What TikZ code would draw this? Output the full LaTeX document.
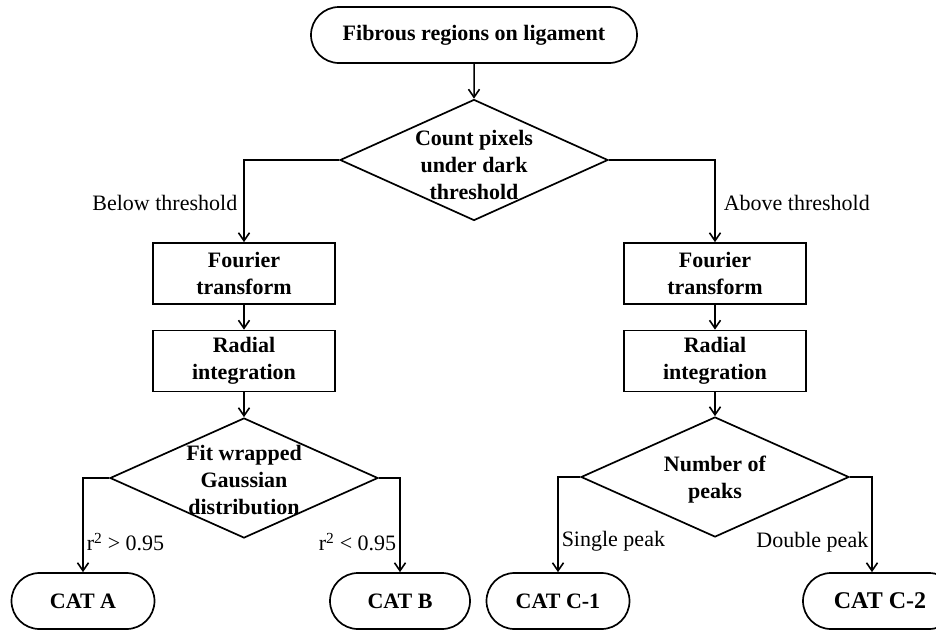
\documentclass[tikz,border=0pt]{standalone}
\usepackage{fontspec}
\setmainfont{Liberation Serif}
\usetikzlibrary{arrows.meta, positioning, shapes.geometric, shapes.misc}

\begin{document}
\begin{tikzpicture}[
  x=1pt, y=-1pt,
  term/.style={rounded rectangle, draw=black, line width=1.7pt, inner sep=0pt,
               minimum height=56pt, font=\fontsize{22}{27}\selectfont\bfseries},
  proc/.style={rectangle, draw=black, line width=1.7pt, inner sep=0pt,
               minimum width=182pt, minimum height=61pt, align=center,
               font=\fontsize{22}{27}\selectfont\bfseries},
  decide/.style={diamond, draw=black, line width=1.7pt, inner sep=0pt,
                 minimum width=268pt, minimum height=121pt},
  dtext/.style={align=center, font=\fontsize{22}{27}\selectfont\bfseries},
  flowarrow/.style={-{Straight Barb[length=8pt, width=11pt, line width=1.6pt]}, line width=1.5pt},
  branch/.style={font=\fontsize{22}{26}\selectfont}
]
\useasboundingbox (0,0) rectangle (936,632);

% Start and first decision
\node[term, minimum width=326pt] (start) at (474,35) {Fibrous regions on ligament};
\node[decide, label={[dtext, yshift=-5pt]center:Count pixels\\under dark\\threshold}] (cnt) at (474,160) {};

% Left branch
\node[proc] (fl) at (244,273.5) {Fourier\\transform};
\node[proc] (rl) at (244,361) {Radial\\integration};
\node[decide, minimum height=120pt, label={[dtext, yshift=-2pt]center:Fit wrapped\\Gaussian\\distribution}] (gl) at (244,478) {};

% Right branch
\node[proc] (fr) at (715,273.5) {Fourier\\transform};
\node[proc] (rr) at (715,361) {Radial\\integration};
\node[decide, minimum height=120pt, label={[dtext, yshift=-3pt]center:Number of\\peaks}] (nr) at (715,477) {};

% Categories
\node[term, minimum width=143pt] (ca) at (83,601) {CAT A};
\node[term, minimum width=140pt] (cb) at (400,601) {CAT B};
\node[term, minimum width=143pt] (cc1) at (558,601) {CAT C-1};
\node[term, minimum width=154pt, font=\fontsize{24}{28}\selectfont\bfseries] (cc2) at (880,601) {CAT C-2};

% Flow arrows
\draw[flowarrow] (start) -- (cnt);
\draw[flowarrow] (cnt.west) -| node[branch, pos=0.76, left, inner sep=6pt] {Below threshold} (fl.north);
\draw[flowarrow] (cnt.east) -| node[branch, pos=0.76, right, inner sep=8pt] {Above threshold} (fr.north);
\draw[flowarrow] (fl) -- (rl);
\draw[flowarrow] (rl) -- (gl);
\draw[flowarrow] (fr) -- (rr);
\draw[flowarrow] (rr) -- (nr);
\draw[flowarrow] (gl.west) -| node[branch, pos=0.84, right, inner sep=3pt] {r\textsuperscript{2} > 0.95} (ca.north);
\draw[flowarrow] (gl.east) -| node[branch, pos=0.84, left, inner sep=3pt] {r\textsuperscript{2} < 0.95} (cb.north);
\draw[flowarrow] (nr.west) -| node[branch, pos=0.84, right, inner sep=3pt] {Single peak} (cc1.north);
\draw[flowarrow] (nr.east) -| node[branch, pos=0.84, left, inner sep=3pt] {Double peak} ([xshift=-8pt]cc2.north);

\end{tikzpicture}
\end{document}
